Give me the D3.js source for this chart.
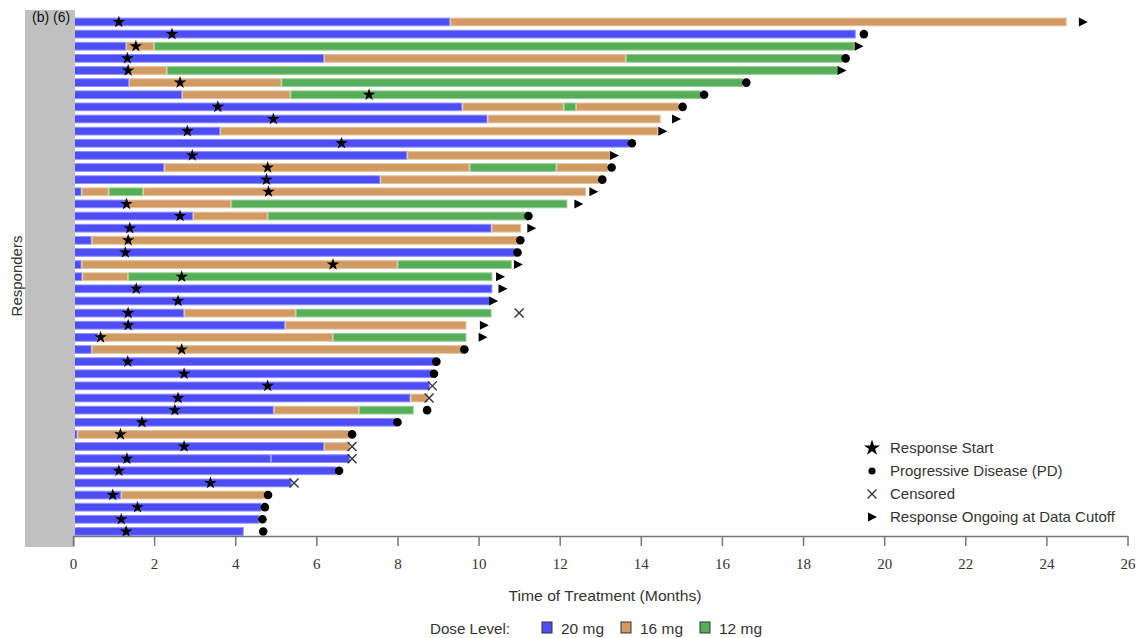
<!DOCTYPE html>
<html>
<head>
<meta charset="utf-8">
<script src="https://cdn.jsdelivr.net/npm/d3@7"></script>
<style>
  body { margin: 0; background: #fff; }
  svg { display: block; }
</style>
</head>
<body>
<div id="chart"></div>
<script>
// one entry per responder, top to bottom: [dose, cumulative end month] per segment
const doseSegments = [
  [[20, 9.3], [16, 24.5]],
  [[20, 19.3]],
  [[20, 1.31], [16, 2.0], [12, 19.27]],
  [[20, 6.19], [16, 13.63], [12, 18.98]],
  [[20, 1.37], [16, 2.31], [12, 18.87]],
  [[20, 1.38], [16, 5.14], [12, 16.52]],
  [[20, 2.69], [16, 5.36], [12, 15.49]],
  [[20, 9.6], [16, 12.1], [12, 12.4], [16, 14.94]],
  [[20, 10.22], [16, 14.49]],
  [[20, 3.63], [16, 14.42]],
  [[20, 13.71]],
  [[20, 8.24], [16, 13.26]],
  [[20, 2.25], [16, 9.78], [12, 11.92], [16, 13.19]],
  [[20, 7.58], [16, 12.98]],
  [[20, 0.21], [16, 0.88], [12, 1.73], [16, 12.65]],
  [[20, 1.31], [16, 3.9], [12, 12.19]],
  [[20, 2.96], [16, 4.8], [12, 11.22]],
  [[20, 10.32], [16, 11.05]],
  [[20, 0.46], [16, 11.01]],
  [[20, 10.93]],
  [[20, 0.21], [16, 8.0], [12, 10.82]],
  [[20, 0.23], [16, 1.36], [12, 10.34]],
  [[20, 10.34]],
  [[20, 10.28]],
  [[20, 2.74], [16, 5.49], [12, 10.32]],
  [[20, 5.23], [16, 9.7]],
  [[20, 0.62], [16, 6.41], [12, 9.7]],
  [[20, 0.46], [16, 9.64]],
  [[20, 8.92]],
  [[20, 8.86]],
  [[20, 8.8]],
  [[20, 8.32], [16, 8.76]],
  [[20, 4.95], [16, 7.05], [12, 8.4]],
  [[20, 7.97]],
  [[20, 0.11], [16, 6.81]],
  [[20, 6.19], [16, 6.83]],
  [[20, 4.88], [20, 6.83]],
  [[20, 6.5]],
  [[20, 5.39]],
  [[20, 1.19], [16, 4.77]],
  [[20, 4.65]],
  [[20, 4.59]],
  [[20, 4.21]]
];

const responseStart = [1.13, 2.44, 1.55, 1.34, 1.36, 2.64, 7.3, 3.57, 4.94, 2.82,
  6.62, 2.94, 4.8, 4.77, 4.82, 1.32, 2.64, 1.4, 1.36, 1.29,
  6.41, 2.68, 1.56, 2.59, 1.36, 1.36, 0.68, 2.68, 1.35, 2.74,
  4.8, 2.59, 2.51, 1.7, 1.17, 2.74, 1.33, 1.13, 3.39, 0.98,
  1.59, 1.19, 1.31];

// A = ongoing at cutoff, P = progressive disease, C = censored
const endType = ["A", "P", "A", "P", "A", "P", "P", "P", "A", "A",
  "P", "A", "P", "P", "A", "A", "P", "A", "P", "P",
  "A", "A", "A", "A", "C", "A", "A", "P", "P", "P",
  "C", "C", "P", "P", "P", "C", "C", "P", "C", "P",
  "P", "P", "P"];

const endTime = [24.9, 19.5, 19.37, 19.05, 18.95, 16.6, 15.56, 15.03, 14.87, 14.53,
  13.78, 13.34, 13.28, 13.05, 12.83, 12.46, 11.23, 11.3, 11.03, 10.96,
  10.97, 10.53, 10.59, 10.36, 11.0, 10.13, 10.1, 9.65, 8.96, 8.9,
  8.86, 8.78, 8.73, 8.0, 6.88, 6.88, 6.88, 6.56, 5.45, 4.81,
  4.73, 4.67, 4.69];

const doseLevels = [20, 16, 12];
const doseLabels = ["20 mg", "16 mg", "12 mg"];
const xTicks = d3.range(0, 27, 2);
const legendLabels = ["Response Start", "Progressive Disease (PD)", "Censored", "Response Ongoing at Data Cutoff"];

const W = 1141, H = 638;
const doseFill = {20: "#4d4df6", 16: "#d09a62", 12: "#58ad58"};
const doseEdge = {20: "#9090ff", 16: "#e6c29c", 12: "#93cf93"};

const svg = d3.select("#chart").append("svg")
  .attr("width", W).attr("height", H)
  .style("font-family", "Liberation Sans, Arial, sans-serif");

const x = d3.scaleLinear().domain([0, 26]).range([73, 1127.5]);
const rows = d3.range(doseSegments.length);
const y = d3.scaleBand().domain(rows).range([15.9, 537.5]).paddingInner(0.28).paddingOuter(0.14);

// bars
const barG = svg.append("g");
rows.forEach(i => {
  let start = 0;
  doseSegments[i].forEach(([dose, end]) => {
    barG.append("rect")
      .attr("x", x(start) + 0.5)
      .attr("y", y(i) + 0.5)
      .attr("width", Math.max(0.5, x(end) - x(start) - 1))
      .attr("height", y.bandwidth() - 1)
      .attr("fill", doseFill[dose])
      .attr("stroke", doseEdge[dose])
      .attr("stroke-width", 1);
    start = end;
  });
});

// gray strip on the left (drawn over bar starts)
svg.append("rect").attr("x", 25).attr("y", 10).attr("width", 50).attr("height", 537)
  .attr("fill", "#c0c0c0");
svg.append("text").attr("x", 32).attr("y", 22).attr("font-size", 14).attr("fill", "#111")
  .text("(b) (6)");

const star = d3.symbol().type(d3.symbolStar).size(48);
const tri = "M-4,-4.5L5,0L-4,4.5Z";

function drawEnd(g, type, cx, cy) {
  if (type === "P") {
    g.append("circle").attr("cx", cx).attr("cy", cy).attr("r", 4.3).attr("fill", "#000");
  } else if (type === "A") {
    g.append("path").attr("d", tri).attr("transform", `translate(${cx},${cy})`).attr("fill", "#000");
  } else {
    g.append("path").attr("d", "M-4.5,-4.5L4.5,4.5M-4.5,4.5L4.5,-4.5")
      .attr("transform", `translate(${cx},${cy})`)
      .attr("stroke", "#333").attr("stroke-width", 1.4).attr("fill", "none");
  }
}

const markG = svg.append("g");
rows.forEach(i => {
  const cy = y(i) + y.bandwidth() / 2;
  drawEnd(markG, endType[i], x(endTime[i]), cy);
  markG.append("path").attr("d", star).attr("transform", `translate(${x(responseStart[i])},${cy})`)
    .attr("fill", "#000");
});

// x axis
const axisG = svg.append("g").attr("transform", "translate(0,536)");
axisG.call(d3.axisBottom(x).tickValues(xTicks).tickSize(10).tickSizeOuter(0).tickFormat(d3.format("d")));
axisG.select(".domain").attr("stroke", "#777").attr("stroke-width", 1.5);
axisG.selectAll(".tick line").attr("stroke", "#777").attr("stroke-width", 1.5);
axisG.selectAll(".tick text").attr("font-family", "Liberation Serif, Times New Roman, serif")
  .attr("font-size", 15).attr("fill", "#333").attr("dy", "1.3em");

svg.append("text").attr("x", 605).attr("y", 601).attr("text-anchor", "middle")
  .attr("font-size", 14).attr("fill", "#333")
  .attr("textLength", 193).attr("lengthAdjust", "spacingAndGlyphs")
  .text("Time of Treatment (Months)");

svg.append("text").attr("transform", "translate(22,276) rotate(-90)")
  .attr("text-anchor", "middle").attr("font-size", 15).attr("fill", "#333")
  .text("Responders");

// symbol legend inside plot
const legG = svg.append("g");
legendLabels.forEach((lab, k) => {
  const ly = 448 + k * 23;
  if (k === 0) legG.append("path").attr("d", d3.symbol().type(d3.symbolStar).size(80))
    .attr("transform", `translate(872,${ly})`).attr("fill", "#000");
  else drawEnd(legG, ["P", "C", "A"][k - 1], 872, ly);
  legG.append("text").attr("x", 890).attr("y", ly + 5).attr("font-size", 15).attr("fill", "#333")
    .text(lab);
});
legG.selectAll("circle").attr("r", 3.6);

// dose legend at bottom
const dl = svg.append("g");
dl.append("text").attr("x", 430).attr("y", 634).attr("font-size", 14).attr("fill", "#333")
  .attr("textLength", 80).attr("lengthAdjust", "spacingAndGlyphs").text("Dose Level:");
const swX = [542, 621, 700];
doseLevels.forEach((d, k) => {
  dl.append("rect").attr("x", swX[k]).attr("y", 622).attr("width", 10).attr("height", 11)
    .attr("fill", doseFill[d]).attr("stroke", "#333").attr("stroke-width", 1);
  dl.append("text").attr("x", swX[k] + 19).attr("y", 634).attr("font-size", 14).attr("fill", "#333")
    .attr("textLength", 43).attr("lengthAdjust", "spacingAndGlyphs").text(doseLabels[k]);
});
</script>
</body>
</html>
